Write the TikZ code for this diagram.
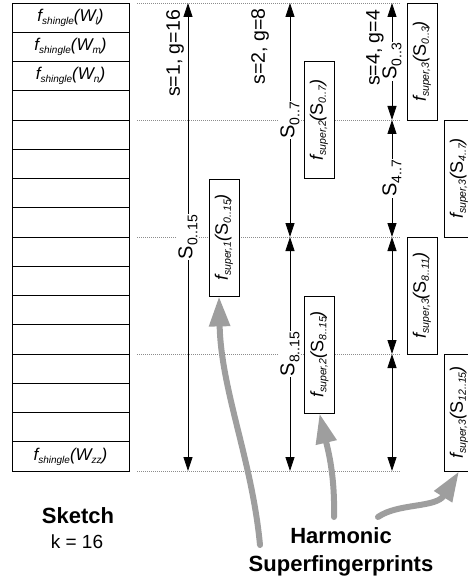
\documentclass[tikz,border=0pt]{standalone}
\usepackage{fontspec}
\setmainfont{Liberation Sans}
\usetikzlibrary{arrows.meta}
\newcommand{\fsz}[1]{\fontsize{#1}{#1}\selectfont}
\newcommand{\shingle}[1]{{\fsz{17}\itshape f\raisebox{-3pt}{\fsz{10}shingle}(W\raisebox{-3pt}{\fsz{10}#1})}}
\newcommand{\superfp}[2]{{\fsz{18}\itshape f\raisebox{-3pt}{\fsz{10.5}super,#1}(\upshape S\raisebox{-3pt}{\fsz{10.5}\itshape #2}\itshape)}}
\newcommand{\seg}[1]{{\fsz{20}S\raisebox{-5pt}{\fsz{14}#1}}}
\begin{document}
\begin{tikzpicture}[x=1pt,y=-1pt,
  cell/.style={draw=black, line width=0.8pt, minimum width=117pt, minimum height=29.25pt, inner sep=0pt},
  guide/.style={draw=black!45, line width=0.7pt, dash pattern=on 1pt off 1pt},
  dimline/.style={draw=black, line width=0.8pt},
  seglabel/.style={fill=white, inner sep=1pt, rotate=90},
  scalelabel/.style={rotate=90, inner sep=0pt, font=\fsz{19.5}},
  sbox/.style={draw=black, line width=0.8pt, fill=white, rotate=90, minimum width=117pt, minimum height=30pt, inner sep=0pt},
  hint/.style={draw=black!38, line width=6pt, line cap=round, -{Triangle[length=30pt,width=20pt]}},
  >={Triangle[length=14pt,width=9pt]}
]
\useasboundingbox (0,0) rectangle (467,580);

% sketch cells
\node[cell] (c1) at (70.5,17.625) {\shingle{l}};
\node[cell] (c2) at (70.5,46.875) {\shingle{m}};
\node[cell] (c3) at (70.5,76.125) {\shingle{n}};
\node[cell] (c4) at (70.5,105.375) {};
\node[cell] (c5) at (70.5,134.625) {};
\node[cell] (c6) at (70.5,163.875) {};
\node[cell] (c7) at (70.5,193.125) {};
\node[cell] (c8) at (70.5,222.375) {};
\node[cell] (c9) at (70.5,251.625) {};
\node[cell] (c10) at (70.5,280.875) {};
\node[cell] (c11) at (70.5,310.125) {};
\node[cell] (c12) at (70.5,339.375) {};
\node[cell] (c13) at (70.5,368.625) {};
\node[cell] (c14) at (70.5,397.875) {};
\node[cell] (c15) at (70.5,427.125) {};
\node[cell] (c16) at (70.5,456.375) {\shingle{zz}};

% guide lines
\foreach \yy in {3,120,237,354,471}
  \draw[guide] (137,\yy) -- (400,\yy);

% column coordinates
\coordinate (a1t) at (188,3);
\coordinate (a1b) at (188,471);
\coordinate (a2t) at (290,3);
\coordinate (a2m) at (290,237);
\coordinate (a2b) at (290,471);
\coordinate (a3p0) at (392,3);
\coordinate (a3p1) at (392,120);
\coordinate (a3p2) at (392,237);
\coordinate (a3p3) at (392,354);
\coordinate (a3p4) at (392,471);

\draw[dimline,<->] (a1t) -- node[seglabel] (l1) {\seg{0..15}} (a1b);
\draw[dimline,<->] (a2t) -- node[seglabel] (l2a) {\seg{0..7}} (a2m);
\draw[dimline,<->] (a2m) -- node[seglabel] (l2b) {\seg{8..15}} (a2b);
\draw[dimline,<->] (a3p0) -- node[seglabel] (l3a) {\seg{0..3}} (a3p1);
\draw[dimline,<->] (a3p1) -- node[seglabel] (l3b) {\seg{4..7}} (a3p2);
\draw[dimline,<->] (a3p2) -- (a3p3);
\draw[dimline,<->] (a3p3) -- (a3p4);

\node[scalelabel] (s1) at (175,53.5) {s=1, g=16};
\node[scalelabel] (s2) at (260,46.5) {s=2, g=8};
\node[scalelabel] (s3) at (375,48) {s=4, g=4};

% superfingerprint boxes
\node[sbox] (b1) at (224,237.5) {\superfp{1}{0..15}};
\node[sbox] (b2a) at (319,120) {\superfp{2}{0..7}};
\node[sbox] (b2b) at (319.5,354.5) {\superfp{2}{8..15}};
\node[sbox] (b3a) at (422,61.5) {\superfp{3}{0..3}};
\node[sbox] (b3b) at (459,178.5) {\superfp{3}{4..7}};
\node[sbox] (b3c) at (422,295.5) {\superfp{3}{8..11}};
\node[sbox] (b3d) at (459,412.5) {\superfp{3}{12..15}};

% captions
\node[font=\fsz{22}\bfseries, inner sep=0pt] (sk) at (78,516) {Sketch};
\node[font=\fsz{19}, inner sep=0pt] (kk) at (77,542) {k = 16};
\node[font=\fontsize{22}{28}\selectfont\bfseries, align=center, inner sep=0pt] (hs) at (341,552) {Harmonic\\Superfingerprints};

% gray hint arrows
\coordinate (h1) at (260,545);
\coordinate (h2) at (334,517);
\coordinate (h3) at (378,517);
\draw[hint] (h1) .. controls (252,460) and (221,390) .. ([xshift=-5pt]b1.west);
\draw[hint] (h2) .. controls (335,475) and (328,450) .. (b2b.west);
\draw[hint] (h3) .. controls (398,503) and (436,508) .. (b3d.west);
\end{tikzpicture}
\end{document}
